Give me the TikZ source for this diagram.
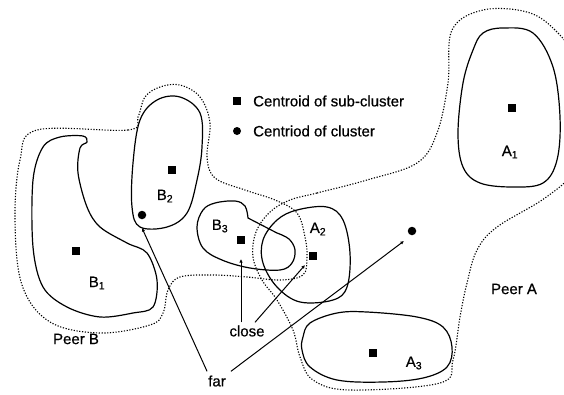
\documentclass[tikz,border=0pt]{standalone}
\usepackage{fontspec}
\setmainfont{Liberation Sans}
\newfontfamily\lblfont[FakeBold=0.6]{Liberation Sans}
\usetikzlibrary{arrows.meta}
\begin{document}
\begin{tikzpicture}[x=1pt,y=-1pt,
  clu/.style={line width=1.2pt},
  peer/.style={line width=1.1pt, dash pattern=on 1.2pt off 1.6pt},
  sq/.style={fill=black, minimum size=8.5pt, inner sep=0pt},
  cen/.style={circle, fill=black, minimum size=8.5pt, inner sep=0pt},
  lbl/.style={font=\lblfont\fontsize{15}{18}\selectfont, inner sep=0pt},
  con/.style={line width=1pt, -{Latex[length=3.5pt,width=3.5pt]}},
]
\useasboundingbox (0,0) rectangle (564,394);
\clip (0,0) rectangle (564,394);
% Peer B
\draw[peer] plot[smooth cycle, tension=0.6] coordinates {(37,130) (128,130) (138,117) (145,97) (160,87) (180,85) (200,97) (210,123) (207,157) (215,178) (245,190) (275,200) (297,213) (305,237) (307,257) (303,275) (280,280) (247,277) (213,275) (180,277) (168,290) (163,313) (150,325) (100,333) (50,322) (22,285) (15,220) (20,160)};
% Peer A
\draw[peer] plot[smooth cycle, tension=0.6] coordinates {(290,200) (317,193) (367,180) (417,163) (437,133) (448,83) (452,30) (483,10) (527,12) (555,30) (578,62) (595,120) (575,170) (545,198) (497,227) (477,250) (467,283) (460,317) (453,360) (440,383) (350,390) (313,380) (300,357) (293,330) (277,300) (262,280) (253,257) (256,232) (270,212)};
% sub-clusters
\draw[clu] plot[smooth cycle, tension=0.55] coordinates {(60,137) (83,136) (87,142) (80,148) (78,173) (87,207) (100,227) (127,243) (147,253) (157,280) (153,307) (133,313) (100,317) (67,307) (43,287) (33,247) (33,180) (43,147)};
\draw[clu] plot[smooth cycle, tension=0.6] coordinates {(157,100) (180,97) (200,113) (202,147) (197,180) (187,213) (167,227) (140,227) (132,207) (133,163) (140,120)};
\draw[clu] plot[smooth, tension=0.6] coordinates {(277,233) (289,239) (295,250) (292,263) (280,270) (250,268) (222,260) (203,248) (197,227) (203,210) (215,203) (235,201) (245,206) (248,218)} -- (277,233);
\draw[clu] plot[smooth cycle, tension=0.6] coordinates {(277,220) (297,210) (327,207) (343,220) (350,253) (347,287) (333,300) (300,302) (277,287) (263,263) (263,240)};
\draw[clu] plot[smooth cycle, tension=0.6] coordinates {(483,33) (503,28) (533,33) (553,67) (560,117) (557,160) (543,183) (513,187) (480,183) (463,167) (458,133) (463,83) (473,50)};
\draw[clu] plot[smooth cycle, tension=0.6] coordinates {(303,337) (310,323) (337,313) (367,312) (417,317) (443,327) (452,347) (447,367) (423,378) (383,382) (337,380) (310,367) (302,350)};
% centroids
\node[sq] (sB1) at (76,251) {};
\node[sq] (sB2) at (172,170) {};
\node[sq] (sB3) at (241,240) {};
\node[sq] (sA2) at (313,256) {};
\node[sq] (sA1) at (512,108) {};
\node[sq] (sA3) at (373,353) {};
\node[cen] (cB) at (142,215) {};
\node[cen] (cA) at (412,231) {};
% legend
\node[sq, minimum size=8pt] (lsq) at (237,101) {};
\node[cen, minimum size=8pt] (lci) at (237,131) {};
\node[lbl, anchor=west] (lt1) at (253,101) {Centroid of sub-cluster};
\node[lbl, anchor=west] (lt2) at (253,131) {Centriod of cluster};
% labels
\node[lbl] (lB1) at (97,283) {B\textsubscript{1}};
\node[lbl] (lB2) at (165,196) {B\textsubscript{2}};
\node[lbl] (lB3) at (220,226) {B\textsubscript{3}};
\node[lbl] (lA2) at (318,229) {A\textsubscript{2}};
\node[lbl] (lA1) at (510,152) {A\textsubscript{1}};
\node[lbl] (lA3) at (414,363) {A\textsubscript{3}};
\node[lbl] (pB) at (76,339) {Peer B};
\node[lbl] (pA) at (514,289) {Peer A};
\node[lbl] (close) at (247,331) {close};
\node[lbl] (far) at (217,381) {far};
% connectors
\coordinate (tB3) at (241,259);
\coordinate (tA2) at (305,265);
\coordinate (tB) at (142,228);
\coordinate (tA) at (404,241);
\draw[con] (close.north -| tB3) ++(0,-3) -- (tB3);
\draw[con] ([xshift=8pt,yshift=3pt]close.north) -- (tA2);
\draw[con] ([xshift=-1pt,yshift=4pt]far.north west) -- (tB);
\draw[con] ([xshift=5pt,yshift=4pt]far.north east) -- (tA);
\end{tikzpicture}
\end{document}
